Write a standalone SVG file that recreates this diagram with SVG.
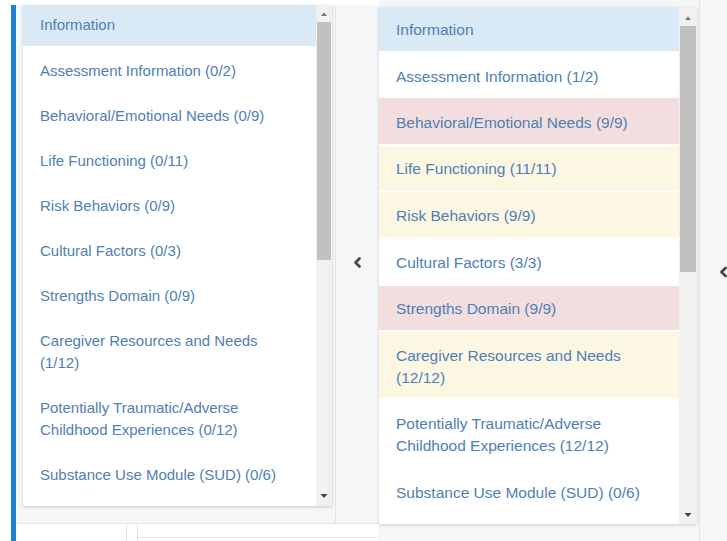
<svg xmlns="http://www.w3.org/2000/svg" width="727" height="541" viewBox="0 0 727 541">
<defs>
<filter id="sh" x="-5%" y="-5%" width="110%" height="110%">
<feDropShadow dx="0" dy="1" stdDeviation="1.5" flood-color="#000" flood-opacity="0.18"/>
</filter>
</defs>
<style>
.t{font-family:"Liberation Sans",Arial,sans-serif;font-size:15px;fill:#4f80b4}
.t2{font-family:"Liberation Sans",Arial,sans-serif;font-size:15.5px;fill:#4f80b4}
.info{fill:#d9e9f5}
.pink{fill:#f2dede}
.yel{fill:#fcf7e2}
.wh{fill:#ffffff}
.track{fill:#f1f1f1}
.thumb{fill:#c1c1c1}
.arr{fill:#777}
.chev{fill:none;stroke:#4a4a4a;stroke-width:2.8;stroke-linecap:round;stroke-linejoin:round}
.ln{stroke:#e4e4e4;stroke-width:1;fill:none}
</style>
<rect x="0" y="0" width="727" height="541" fill="#ffffff"/>
<rect x="16" y="5" width="363" height="518" fill="#f5f6f8"/>
<rect x="379" y="0" width="348" height="541" fill="#f5f6f8"/>
<rect x="16" y="523" width="363" height="18" fill="#ffffff"/>
<rect x="11" y="5" width="5" height="536" fill="#1e7fd2"/>
<g id="bottom-lines">
<line class="ln" x1="16" y1="523.5" x2="379" y2="523.5"/>
<line class="ln" x1="126.5" y1="524" x2="126.5" y2="541"/>
<line class="ln" x1="137.5" y1="524" x2="137.5" y2="541"/>
<line class="ln" x1="137" y1="537.5" x2="379" y2="537.5"/>
<line class="ln" x1="335.5" y1="5" x2="335.5" y2="523"/>
<line class="ln" x1="699.5" y1="0" x2="699.5" y2="541"/>
</g>

<g id="left-panel">
<rect x="23" y="5" width="309" height="501" fill="#fff" filter="url(#sh)"/>
<g id="l-info"><rect class="info" x="23" y="5" width="293" height="41"/><text class="t" x="40" y="30">Information</text></g>
<g id="l-assess"><text class="t" x="40" y="75.5">Assessment Information (0/2)</text></g>
<g id="l-behav"><text class="t" x="40" y="120.5">Behavioral/Emotional Needs (0/9)</text></g>
<g id="l-life"><text class="t" x="40" y="165.5">Life Functioning (0/11)</text></g>
<g id="l-risk"><text class="t" x="40" y="210.5">Risk Behaviors (0/9)</text></g>
<g id="l-cult"><text class="t" x="40" y="255.5">Cultural Factors (0/3)</text></g>
<g id="l-str"><text class="t" x="40" y="300.5">Strengths Domain (0/9)</text></g>
<g id="l-care"><text class="t" x="40" y="346">Caregiver Resources and Needs</text><text class="t" x="40" y="367.5">(1/12)</text></g>
<g id="l-pot"><text class="t" x="40" y="413">Potentially Traumatic/Adverse</text><text class="t" x="40" y="434.5">Childhood Experiences (0/12)</text></g>
<g id="l-sud"><text class="t" x="40" y="479.5">Substance Use Module (SUD) (0/6)</text></g>
<g id="l-scroll">
<rect class="track" x="316" y="5" width="16" height="501"/>
<rect class="thumb" x="317" y="22" width="14" height="238"/>
<path class="arr" d="M321 16 L324 12.5 L327 16 Z"/>
<path fill="#444" d="M320.5 494 L327.5 494 L324 498 Z"/>
</g>
</g>
<g id="left-chevron"><path class="chev" d="M359.5 258.5 L355.5 262.5 L359.5 266.5"/></g>

<g id="right-panel">
<rect x="379" y="7" width="318" height="517" fill="#fff" filter="url(#sh)"/>
<g id="r-info"><rect class="info" x="379" y="7" width="300" height="44"/><text class="t2" x="396" y="34.5">Information</text></g>
<g id="r-assess"><rect class="wh" x="379" y="51" width="300" height="47"/><text class="t2" x="396" y="81.5">Assessment Information (1/2)</text></g>
<g id="r-behav"><rect class="pink" x="379" y="98" width="300" height="46"/><text class="t2" x="396" y="127.5">Behavioral/Emotional Needs (9/9)</text></g>
<g id="r-life"><rect class="yel" x="379" y="146" width="300" height="44.5"/><text class="t2" x="396" y="173.5">Life Functioning (11/11)</text></g>
<g id="r-risk"><rect class="yel" x="379" y="192.5" width="300" height="44.5"/><text class="t2" x="396" y="220.5">Risk Behaviors (9/9)</text></g>
<g id="r-cult"><rect class="wh" x="379" y="237" width="300" height="49"/><text class="t2" x="396" y="267.5">Cultural Factors (3/3)</text></g>
<g id="r-str"><rect class="pink" x="379" y="286" width="300" height="44"/><text class="t2" x="396" y="313.5">Strengths Domain (9/9)</text></g>
<g id="r-care"><rect class="yel" x="379" y="332" width="300" height="66"/><text class="t2" x="396" y="360.5">Caregiver Resources and Needs</text><text class="t2" x="396" y="382.5">(12/12)</text></g>
<g id="r-pot"><text class="t2" x="396" y="428.5">Potentially Traumatic/Adverse</text><text class="t2" x="396" y="450.5">Childhood Experiences (12/12)</text></g>
<g id="r-sud"><text class="t2" x="396" y="497.5">Substance Use Module (SUD) (0/6)</text></g>
<g id="r-scroll">
<rect class="track" x="679" y="7" width="18" height="517"/>
<rect class="thumb" x="680" y="26" width="16" height="246"/>
<path class="arr" d="M685 20 L688 16.5 L691 20 Z"/>
<path fill="#444" d="M684.5 513 L691.5 513 L688 517 Z"/>
</g>
</g>
<g id="right-chevron"><path class="chev" d="M725.5 268 L721.5 272 L725.5 276"/></g>
</svg>
